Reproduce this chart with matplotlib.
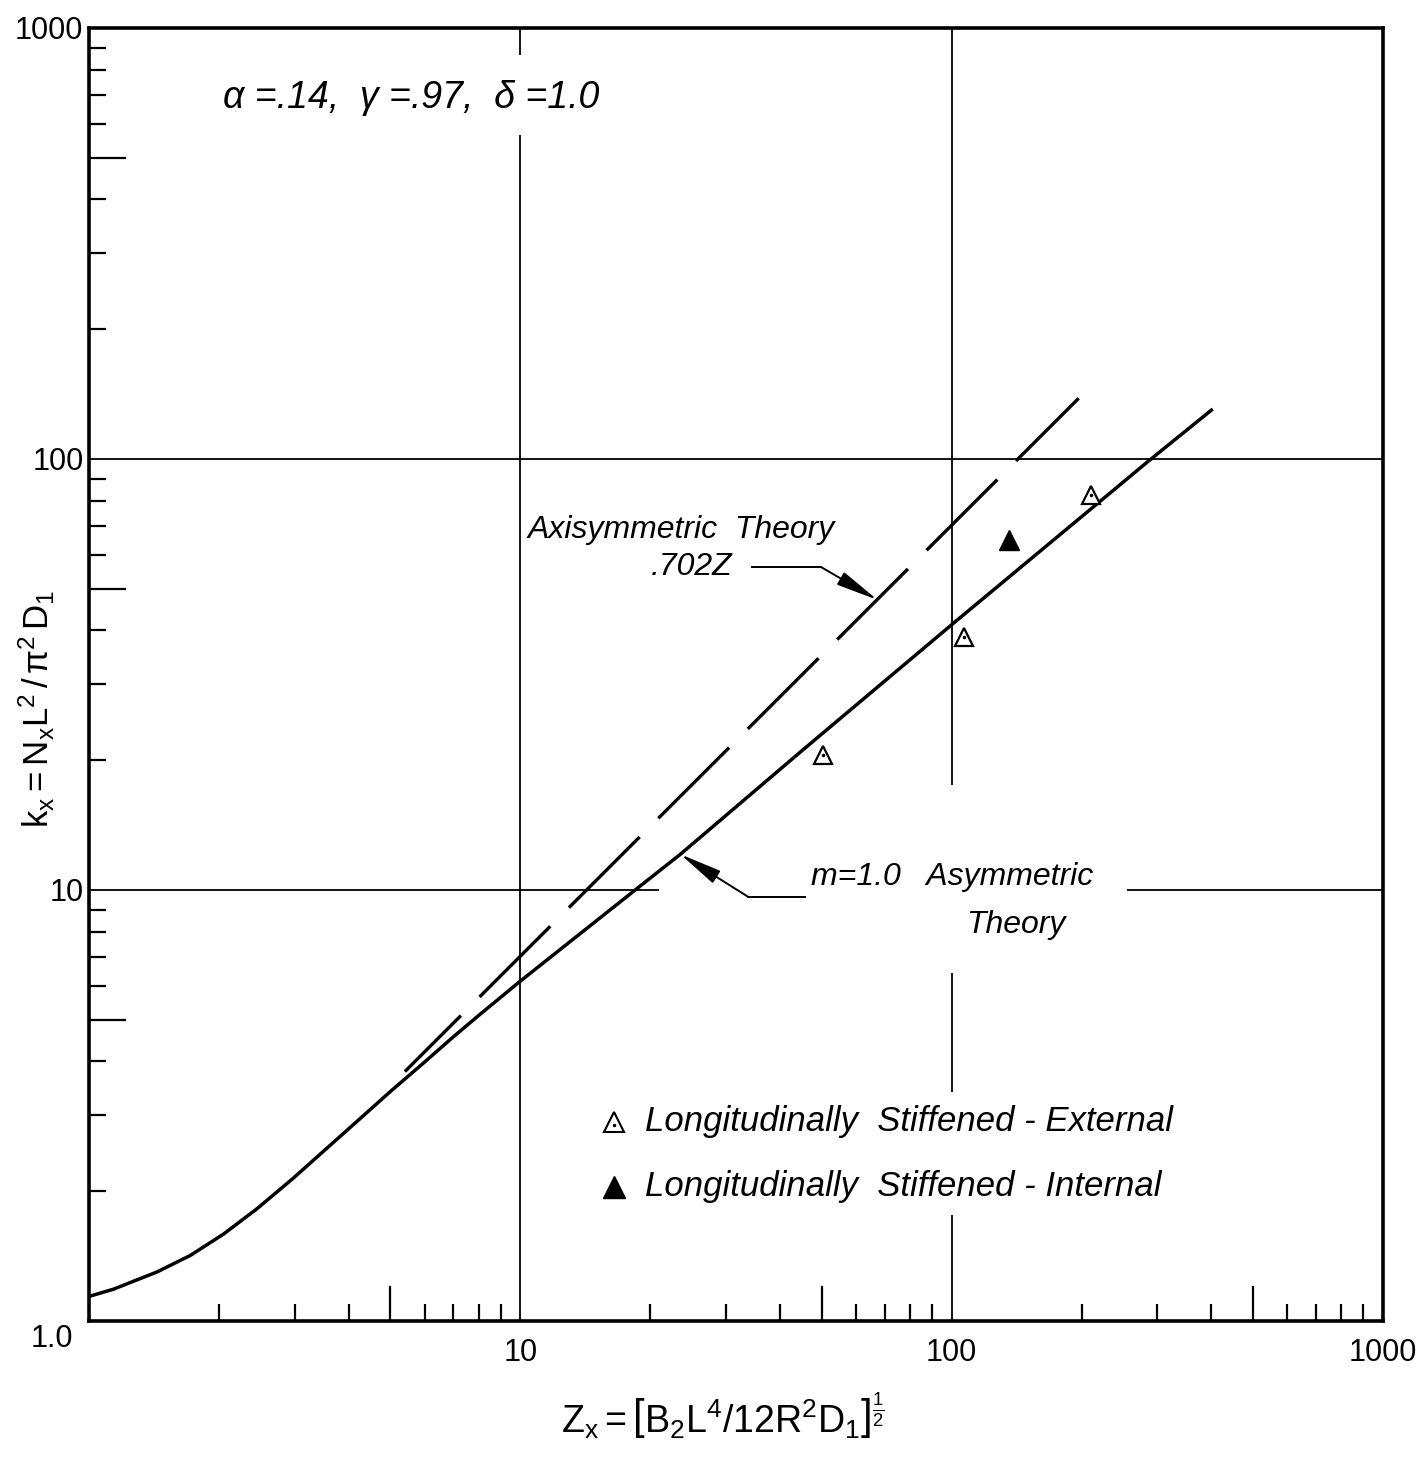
import numpy as np
import matplotlib
matplotlib.use("Agg")
import matplotlib.pyplot as plt
from matplotlib.ticker import FixedLocator, FixedFormatter, NullFormatter

# ---------------------------------------------------------------
# Buckling coefficient vs curvature parameter, longitudinally
# stiffened cylinders (log-log)
# ---------------------------------------------------------------

plt.rcParams["font.family"] = ["Liberation Sans", "DejaVu Sans"]
plt.rcParams["mathtext.fontset"] = "custom"
plt.rcParams["mathtext.rm"] = "Liberation Sans"
plt.rcParams["mathtext.it"] = "Liberation Sans:italic"
plt.rcParams["lines.scale_dashes"] = False

# m = 1.0 asymmetric theory
asym_z = [1.0, 1.14, 1.44, 1.72, 2.05, 2.45, 2.97, 3.44, 4.03, 5.02,
          5.97, 6.99, 7.98, 9.95, 18.7, 23.5, 44.6, 101, 286, 403]
asym_k = [1.14, 1.185, 1.30, 1.42, 1.59, 1.82, 2.14, 2.44, 2.81, 3.42,
          3.97, 4.56, 5.10, 6.12, 10.1, 12.1, 20.9, 41.6, 98.9, 130.6]

# axisymmetric theory, k = .702 Z
axi_z = [5.4, 197]
axi_k = [3.79, 138.3]

# test points
ext_z = [50.2, 106.6, 210]
ext_k = [20.6, 38.6, 82.5]
int_z = [135.6]
int_k = [64.9]

decade_ticks = [10, 100, 1000]
x_tick_labels = ["10", "100", "1000"]
y_tick_labels = ["10", "100", "1000"]
minor_ticks = [m * d for d in (1, 10, 100) for m in (2, 3, 4, 6, 7, 8, 9)]
mid_ticks = [5, 50, 500]

# broken grid lines (value, start, end)
v_grid = [(10, 1, 565), (10, 865, 1000),
          (100, 1, 1.76), (100, 3.4, 6.4), (100, 17.5, 1000)]
h_grid = [(10, 1, 21), (10, 255, 1000), (100, 1, 1000)]

fig = plt.figure(figsize=(14.28, 14.58), dpi=100)
ax = fig.add_axes([0.0623, 0.0940, 0.9062, 0.8868])
ax.set_xscale("log")
ax.set_yscale("log")
ax.set_xlim(1, 1000)
ax.set_ylim(1, 1000)

for s in ax.spines.values():
    s.set_linewidth(2.6)

ax.xaxis.set_major_locator(FixedLocator(decade_ticks))
ax.xaxis.set_major_formatter(FixedFormatter(x_tick_labels))
ax.yaxis.set_major_locator(FixedLocator(decade_ticks))
ax.yaxis.set_major_formatter(FixedFormatter(y_tick_labels))
ax.xaxis.set_minor_locator(FixedLocator(minor_ticks))
ax.yaxis.set_minor_locator(FixedLocator(minor_ticks))
ax.xaxis.set_minor_formatter(NullFormatter())
ax.yaxis.set_minor_formatter(NullFormatter())
ax.tick_params(which="major", length=0, labelsize=22)
ax.tick_params(axis="x", which="major", pad=12)
ax.tick_params(axis="y", which="major", pad=4)
ax.tick_params(which="minor", direction="in", length=12, width=1.6)

# longer ticks at the 5s
for v in mid_ticks:
    ax.plot([v, v], [0, 0.026], transform=ax.get_xaxis_transform(),
            color="k", lw=1.6, clip_on=False)
    ax.plot([0, 0.028], [v, v], transform=ax.get_yaxis_transform(),
            color="k", lw=1.6, clip_on=False)

ax.text(-0.012, -0.002, "1.0", transform=ax.transAxes, ha="right", va="top",
        fontsize=22)

for x, y0, y1 in v_grid:
    ax.vlines(x, y0, y1, color="k", lw=1.3)
for y, x0, x1 in h_grid:
    ax.hlines(y, x0, x1, color="k", lw=1.3)

# theory curves
ax.plot(asym_z, asym_k, color="k", lw=2.5, solid_capstyle="butt",
        solid_joinstyle="round")
ax.plot(axi_z, axi_k, color="k", lw=2.4, linestyle=(15, (72, 19)),
        dash_capstyle="butt")

# test data
ax.plot(ext_z, ext_k, ls="none", marker="^", ms=13, mfc="white", mec="k",
        mew=1.6)
ax.plot(ext_z, ext_k, ls="none", marker=".", ms=3, color="k")
ax.plot(int_z, int_k, ls="none", marker="^", ms=14, color="k")

txt = dict(fontsize=23, style="italic", color="k")
arrow = dict(arrowstyle="-|>,head_length=1.3,head_width=0.22", color="k",
             lw=1.4, shrinkA=0, shrinkB=0, mutation_scale=20)

ax.text(2.04, 688, r"α =.14,  γ =.97,  δ =1.0", ha="left", va="center",
        fontsize=27, style="italic")

ax.text(10.4, 68.4, "Axisymmetric  Theory", ha="left", va="center", **txt)
ax.text(31.0, 56.2, ".702Z", ha="right", va="center", **txt)
ax.plot([34.5, 49.7], [56.2, 56.2], color="k", lw=1.4)
ax.annotate("", xy=(67.3, 47.1), xytext=(49.7, 56.2), arrowprops=arrow)

ax.text(47.1, 10.7, "m=1.0   Asymmetric", ha="left", va="center", **txt)
ax.text(107.8, 8.3, "Theory", ha="left", va="center", **txt)
ax.plot([33.8, 45.8], [9.63, 9.63], color="k", lw=1.4)
ax.annotate("", xy=(23.5, 12.1), xytext=(33.8, 9.63), arrowprops=arrow)

# key
ax.plot([16.5], [2.90], marker="^", ms=15, mfc="white", mec="k", mew=1.5)
ax.plot([16.5], [2.85], marker=".", ms=3, color="k")
ax.plot([16.5], [2.05], marker="^", ms=16, color="k")
ax.text(19.5, 2.90, "Longitudinally  Stiffened - External", ha="left",
        va="center", fontsize=25, style="italic")
ax.text(19.5, 2.05, "Longitudinally  Stiffened - Internal", ha="left",
        va="center", fontsize=25, style="italic")

fig.text(0.506, 0.029,
         r"$\mathrm{Z_x = \left[B_2L^4/12R^2D_1\right]^{\frac{1}{2}}}$",
         ha="center", va="center", fontsize=27)
fig.text(0.026, 0.514, r"$\mathrm{k_x = N_xL^2\,/\,\pi^2\,D_1}$",
         ha="center", va="center", rotation=90, fontsize=25)

fig.savefig("out.png", dpi=100)
